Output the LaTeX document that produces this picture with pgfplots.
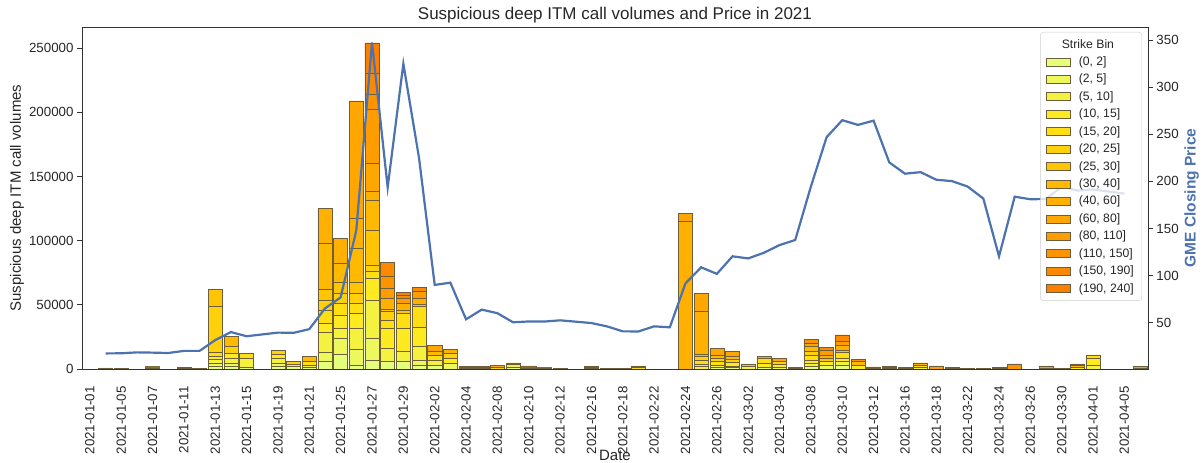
\documentclass[border=0pt]{standalone}
\usepackage{pgfplots}
\pgfplotsset{compat=1.18}
\usepackage{pgfplotstable}
\usepackage{fontspec}
\setmainfont{Liberation Sans}

\definecolor{c0}{RGB}{228,255,122}
\definecolor{c1}{RGB}{236,248,92}
\definecolor{c2}{RGB}{245,241,63}
\definecolor{c3}{RGB}{253,234,33}
\definecolor{c4}{RGB}{255,222,20}
\definecolor{c5}{RGB}{255,209,12}
\definecolor{c6}{RGB}{255,196,4}
\definecolor{c7}{RGB}{255,185,0}
\definecolor{c8}{RGB}{255,176,0}
\definecolor{c9}{RGB}{255,167,0}
\definecolor{c10}{RGB}{255,157,0}
\definecolor{c11}{RGB}{254,147,0}
\definecolor{c12}{RGB}{253,137,0}
\definecolor{c13}{RGB}{252,127,0}
\definecolor{edge}{RGB}{110,95,60}
\definecolor{gmeblue}{RGB}{76,114,176}
\definecolor{txt}{RGB}{38,38,38}

\pgfplotstableread{
idx b0 b1 b2 b3 b4 b5 b6 b7 b8 b9 b10 b11 b12 b13
1  0 0 400 0 400 0 0 0 0 0 0 0 0 0
2  0 300 0 400 0 0 0 0 0 0 0 0 0 0
4  800 0 900 0 600 0 0 0 0 0 0 0 0 0
6  0 700 0 800 0 0 0 0 0 0 0 0 0 0
7  0 0 0 500 0 0 0 0 0 0 0 0 0 0
8  1800 2600 2900 2600 3400 35600 12900 0 0 0 0 0 0 0
9  1800 2600 3900 3900 0 5200 0 7800 0 0 0 0 0 0
10 1500 0 6800 0 3900 0 0 0 0 0 0 0 0 0
12 1800 2600 3900 3400 0 2600 0 0 0 0 0 0 0 0
13 2000 0 2000 0 0 1700 0 0 0 0 0 0 0 0
14 1500 0 1600 0 2600 0 0 3900 0 0 0 0 0 0
15 5700 7000 15600 7300 10300 7800 8300 35900 27500 0 0 0 0 0
16 11700 12200 7800 10400 9100 7800 8200 15100 19500 0 0 0 0 0
17 3100 12200 16400 11700 7800 7800 8200 26800 23400 91500 0 0 0 0
18 7000 16900 29800 16900 5200 5200 27300 23300 6500 22100 42100 11700 16700 23400
19 5700 0 10400 15600 6500 6400 1900 0 8500 0 7800 9100 10900 0
20 5700 0 7800 18200 11700 0 2500 0 5300 0 3800 0 2100 2600
21 3100 3900 10400 15500 15600 0 2100 0 4400 0 5200 0 3100 0
22 3100 0 3900 0 3900 0 0 2600 0 5000 0 0 0 0
23 0 4400 0 3900 0 3900 0 0 3100 0 0 0 0 0
24 0 0 0 0 0 0 600 0 0 800 0 0 900 0
25 0 0 0 500 0 0 0 900 0 0 0 900 0 0
26 0 0 0 0 0 1000 0 0 2000 0 0 0 0 0
27 1500 0 2000 0 0 0 1200 0 0 0 0 0 0 0
28 0 0 0 800 0 0 0 0 900 0 0 800 0 0
29 0 0 800 0 0 700 0 0 0 0 0 0 0 0
30 0 0 0 0 400 0 0 0 0 0 0 0 0 0
32 0 0 700 0 0 0 0 800 0 0 800 0 0 0
33 0 0 0 0 0 500 0 0 0 0 0 0 0 0
34 0 0 0 400 0 0 0 0 0 0 0 0 0 0
35 0 0 0 0 1200 0 1300 0 0 0 0 0 0 0
38 0 0 0 0 0 0 0 0 115300 6000 0 0 0 0
39 0 0 1800 2100 2600 3100 0 1800 33200 14400 0 0 0 0
40 1200 0 1900 0 2600 2600 0 2600 0 5200 0 0 0 0
41 1000 0 1300 2600 0 2600 0 2600 0 3400 0 0 0 0
42 0 0 2000 0 0 0 1900 0 0 0 0 0 0 0
43 1500 0 0 2900 3900 0 0 0 1800 0 0 0 0 0
44 0 1500 0 2100 0 2100 0 0 0 2300 0 0 0 0
45 0 0 0 0 400 0 0 0 0 800 0 0 0 0
46 1800 0 2600 2600 3900 2600 0 3900 0 2600 0 3100 0 0
47 0 3100 0 2600 0 0 2600 0 2600 0 3900 0 1800 0
48 3100 0 2600 2600 4400 0 2100 0 3900 0 3300 0 4500 0
49 0 0 0 3100 0 0 0 2600 0 0 0 1800 0 0
50 0 0 0 0 0 500 0 0 0 600 0 0 500 0
51 0 0 0 0 600 0 0 0 700 0 0 700 0 0
52 0 0 0 0 0 0 600 0 0 0 600 0 0 0
53 0 0 1500 0 1700 0 0 0 1500 0 0 0 0 0
54 0 0 0 0 0 0 0 0 0 0 2500 0 0 0
55 0 0 0 0 0 600 0 0 0 600 0 0 0 0
56 0 0 0 0 0 0 0 500 0 0 0 0 0 0
57 0 0 0 0 0 0 300 0 0 0 0 0 0 0
58 0 0 0 0 500 0 0 0 0 1000 0 0 0 0
59 0 0 0 0 0 0 0 0 0 0 0 4000 0 0
61 0 0 0 0 0 800 0 0 0 0 1700 0 0 0
62 0 0 0 0 0 0 0 0 500 0 0 0 0 0
63 0 0 0 1500 0 0 0 1300 0 0 1200 0 0 0
64 0 0 3000 5000 3000 0 0 0 0 0 0 0 0 0
67 0 0 0 0 0 800 0 0 0 0 1200 0 0 0
}\bars

\pgfplotstableread{
idx p
1 17.25
2 17.37
3 18.36
4 18.08
5 17.69
6 19.94
7 19.95
8 31.40
9 39.91
10 35.50
12 39.36
13 39.12
14 43.03
15 65.01
16 76.79
17 147.98
18 347.51
19 193.60
20 325.00
21 225.00
22 90.00
23 92.41
24 53.50
25 63.77
26 60.00
27 50.31
28 51.20
29 51.10
30 52.40
32 49.51
33 45.94
34 40.69
35 40.59
36 46.00
37 44.97
38 91.71
39 108.73
40 101.74
41 120.40
42 118.18
43 124.18
44 132.35
45 137.74
46 194.50
47 246.90
48 265.00
49 260.00
50 264.50
51 220.14
52 208.17
53 209.81
54 201.75
55 200.27
56 194.49
57 181.75
58 120.34
59 183.75
60 181.00
61 181.30
62 194.46
63 190.18
64 191.45
66 186.95
}\price

\pgfplotsset{
  binlegend/.style={legend image code/.code={\draw[##1,sharp corners,fill opacity=1,line width=0.5pt] (0pt,-4pt) rectangle (24pt,4pt);}},
  common/.style={
    at={(0,0)}, anchor=south west,
    scale only axis, width=1066pt, height=342pt,
    xmin=-0.5, xmax=67.5,
    tick align=outside, major tick length=5pt,
    /pgf/number format/assume math mode=true,
    tick label style={text=txt, font=\fontsize{13.3}{15}\selectfont},
    label style={text=txt, font=\fontsize{15}{17}\selectfont},
    axis line style={color=black!80, line width=0.8pt},
    tick style={color=black!80, line width=0.8pt},
  },
}

\begin{document}
\begin{tikzpicture}
\useasboundingbox (-82pt,-94pt) rectangle (1121pt,369pt);
\begin{axis}[
  common,
  ymin=0, ymax=266400,
  ybar stacked, bar width=0.9,
  xtick={0,2,...,66},
  xticklabels={2021-01-01,2021-01-05,2021-01-07,2021-01-11,2021-01-13,2021-01-15,2021-01-19,2021-01-21,2021-01-25,2021-01-27,2021-01-29,2021-02-02,2021-02-04,2021-02-08,2021-02-10,2021-02-12,2021-02-16,2021-02-18,2021-02-22,2021-02-24,2021-02-26,2021-03-02,2021-03-04,2021-03-08,2021-03-10,2021-03-12,2021-03-16,2021-03-18,2021-03-22,2021-03-24,2021-03-26,2021-03-30,2021-04-01,2021-04-05},
  xticklabel style={rotate=90, anchor=east, inner sep=0pt},
  xticklabel shift=12pt,
  xtick style={draw=none},
  ytick={0,50000,100000,150000,200000,250000},
  ytick pos=left,
  scaled y ticks=false,
  yticklabel style={/pgf/number format/.cd, fixed, 1000 sep={}},
  xlabel={Date},
  xlabel style={at={(axis description cs:0.5,-0.2515)}, anchor=center},
  ylabel={Suspicious deep ITM call volumes},
  ylabel style={at={(axis description cs:-0.061,0.5)}, anchor=center},
  every axis title shift=0pt,
  title={Suspicious deep ITM call volumes and Price in 2021},
  title style={at={(axis description cs:0.5,1)}, anchor=south, inner sep=4pt, text=txt, font=\fontsize{17}{19}\selectfont},
]
\pgfplotsinvokeforeach{0,...,13}{
  \addplot[fill=c#1, draw=edge, line width=0.5pt] table[x=idx,y=b#1]{\bars};
}
\end{axis}

\begin{axis}[
  common,
  ymin=0.7, ymax=364,
  axis x line=none, axis y line*=right,
  ytick={50,100,...,350},
  yticklabel style={/pgf/number format/.cd, fixed},
  ylabel={\bfseries GME Closing Price},
  ylabel style={at={(axis description cs:1.041,0.5)}, anchor=center, text=gmeblue, font=\fontsize{15.5}{17}\selectfont},
  legend cell align=left,
  legend style={at={(0.9944,0.9854)}, anchor=north east, fill=white, fill opacity=0.8, draw opacity=1, text opacity=1, draw=black!20, rounded corners=3pt, font=\fontsize{12.2}{14}\selectfont, text=txt, row sep=3.1pt, inner xsep=6pt, inner ysep=5pt,
    /tikz/every odd column/.append style={column sep=6pt}},
]
\addplot[color=gmeblue, line width=2.2pt, forget plot] table[x=idx,y=p]{\price};
\addlegendimage{empty legend}\addlegendentry{\hspace*{-17pt}Strike Bin}
\addlegendimage{binlegend, fill=c0, draw=edge}\addlegendentry{(0, 2]}
\addlegendimage{binlegend, fill=c1, draw=edge}\addlegendentry{(2, 5]}
\addlegendimage{binlegend, fill=c2, draw=edge}\addlegendentry{(5, 10]}
\addlegendimage{binlegend, fill=c3, draw=edge}\addlegendentry{(10, 15]}
\addlegendimage{binlegend, fill=c4, draw=edge}\addlegendentry{(15, 20]}
\addlegendimage{binlegend, fill=c5, draw=edge}\addlegendentry{(20, 25]}
\addlegendimage{binlegend, fill=c6, draw=edge}\addlegendentry{(25, 30]}
\addlegendimage{binlegend, fill=c7, draw=edge}\addlegendentry{(30, 40]}
\addlegendimage{binlegend, fill=c8, draw=edge}\addlegendentry{(40, 60]}
\addlegendimage{binlegend, fill=c9, draw=edge}\addlegendentry{(60, 80]}
\addlegendimage{binlegend, fill=c10, draw=edge}\addlegendentry{(80, 110]}
\addlegendimage{binlegend, fill=c11, draw=edge}\addlegendentry{(110, 150]}
\addlegendimage{binlegend, fill=c12, draw=edge}\addlegendentry{(150, 190]}
\addlegendimage{binlegend, fill=c13, draw=edge}\addlegendentry{(190, 240]}
\end{axis}
\end{tikzpicture}
\end{document}
